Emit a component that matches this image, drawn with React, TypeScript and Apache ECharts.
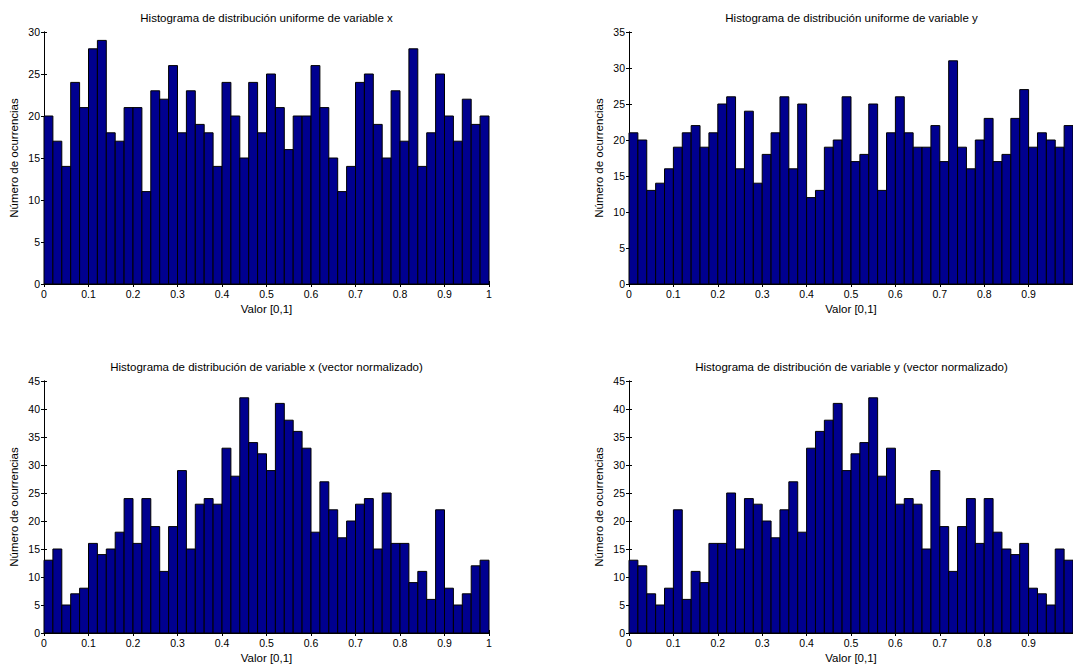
import React, { useEffect, useRef } from "react";
import * as echarts from "echarts";

// Bin centres of the 50-bin histograms (bin width 0.02 over [0,1])
const BIN_CENTERS = [
  0.01, 0.03, 0.05, 0.07, 0.09, 0.11, 0.13, 0.15, 0.17, 0.19,
  0.21, 0.23, 0.25, 0.27, 0.29, 0.31, 0.33, 0.35, 0.37, 0.39,
  0.41, 0.43, 0.45, 0.47, 0.49, 0.51, 0.53, 0.55, 0.57, 0.59,
  0.61, 0.63, 0.65, 0.67, 0.69, 0.71, 0.73, 0.75, 0.77, 0.79,
  0.81, 0.83, 0.85, 0.87, 0.89, 0.91, 0.93, 0.95, 0.97, 0.99,
];
const BIN_WIDTH = 0.02;

const COUNTS_UNIFORM_X = [
  20, 17, 14, 24, 21, 28, 29, 18, 17, 21, 21, 11, 23, 22, 26, 18, 23, 19, 18, 14,
  24, 20, 15, 24, 18, 25, 21, 16, 20, 20, 26, 21, 15, 11, 14, 24, 25, 19, 15, 23,
  17, 28, 14, 18, 25, 20, 17, 22, 19, 20,
];
const COUNTS_UNIFORM_Y = [
  21, 20, 13, 14, 16, 19, 21, 22, 19, 21, 25, 26, 16, 24, 14, 18, 21, 26, 16, 25,
  12, 13, 19, 20, 26, 17, 18, 25, 13, 21, 26, 21, 19, 19, 22, 17, 31, 19, 16, 20,
  23, 17, 18, 23, 27, 19, 21, 20, 19, 22,
];
const COUNTS_NORM_X = [
  13, 15, 5, 7, 8, 16, 14, 15, 18, 24, 16, 24, 19, 11, 19, 29, 15, 23, 24, 23,
  33, 28, 42, 34, 32, 29, 41, 38, 36, 33, 18, 27, 22, 17, 20, 23, 24, 15, 25, 16,
  16, 9, 11, 6, 22, 8, 5, 7, 12, 13,
];
const COUNTS_NORM_Y = [
  13, 12, 7, 5, 8, 22, 6, 11, 9, 16, 16, 25, 15, 24, 23, 20, 17, 22, 27, 18,
  33, 36, 38, 41, 29, 32, 34, 42, 28, 33, 23, 24, 23, 15, 29, 19, 11, 19, 24, 16,
  24, 18, 15, 14, 16, 8, 7, 5, 15, 13,
];

const TITLES = [
  "Histograma de distribución uniforme de variable x",
  "Histograma de distribución uniforme de variable y",
  "Histograma de distribución de variable x (vector normalizado)",
  "Histograma de distribución de variable y (vector normalizado)",
];
const X_LABEL = "Valor [0,1]";
const Y_LABEL = "Número de ocurrencias";
const Y_MAX = [30, 35, 45, 45];
const ALL_COUNTS = [COUNTS_UNIFORM_X, COUNTS_UNIFORM_Y, COUNTS_NORM_X, COUNTS_NORM_Y];

const FONT = "'Liberation Sans', Arial, sans-serif";
const BAR_FILL = "#00008F";

// Panel layout in pixels
const PANELS = [
  { left: 44, top: 32, showLast: true },
  { left: 629, top: 32, showLast: false },
  { left: 44, top: 381, showLast: true },
  { left: 629, top: 381, showLast: false },
];
const PW = 445;
const PH = 252;

export default function App() {
  const ref = useRef<HTMLDivElement>(null);

  useEffect(() => {
    if (!ref.current) return;
    const chart = echarts.init(ref.current, undefined, { renderer: "svg" });

    const grid: any[] = [];
    const xAxis: any[] = [];
    const yAxis: any[] = [];
    const series: any[] = [];
    const title: any[] = [];

    PANELS.forEach((p, i) => {
      grid.push({ left: p.left, top: p.top, width: PW, height: PH, containLabel: false });
      const common = {
        type: "value",
        gridIndex: i,
        min: 0,
        axisLine: { show: true, lineStyle: { color: "#000", width: 1 } },
        axisTick: { show: true, inside: true, length: 3, lineStyle: { color: "#000" } },
        splitLine: { show: false },
      };
      xAxis.push({
        ...common,
        max: 1,
        interval: 0.1,
        position: "bottom",
        axisLabel: {
          show: true,
          color: "#000",
          fontSize: 10.5,
          fontFamily: FONT,
          margin: 4,
          showMaxLabel: p.showLast,
        },
        name: X_LABEL,
        nameLocation: "middle",
        nameGap: 19,
        nameTextStyle: { color: "#000", fontSize: 11.5, fontFamily: FONT },
      });
      xAxis.push({
        ...common,
        max: 1,
        interval: 0.1,
        position: "top",
        axisLabel: { show: false },
      });
      yAxis.push({
        ...common,
        max: Y_MAX[i],
        interval: 5,
        position: "left",
        axisLabel: { show: true, color: "#000", fontSize: 10.5, fontFamily: FONT, margin: 4 },
        name: Y_LABEL,
        nameLocation: "middle",
        nameGap: 24,
        nameRotate: 90,
        nameTextStyle: { color: "#000", fontSize: 11.5, fontFamily: FONT },
      });
      yAxis.push({
        ...common,
        max: Y_MAX[i],
        interval: 5,
        position: "right",
        axisLabel: { show: false },
      });

      const data = BIN_CENTERS.map((c, k) => [c, ALL_COUNTS[i][k]]);
      series.push({
        type: "custom",
        xAxisIndex: 2 * i,
        yAxisIndex: 2 * i,
        data,
        encode: { x: 0, y: 1 },
        renderItem: (params: any, api: any) => {
          const x = api.value(0);
          const c = api.value(1);
          const p0 = api.coord([x - BIN_WIDTH / 2, 0]);
          const p1 = api.coord([x + BIN_WIDTH / 2, c]);
          return {
            type: "rect",
            shape: { x: p0[0], y: p1[1], width: p1[0] - p0[0], height: p0[1] - p1[1] },
            style: { fill: BAR_FILL, stroke: "#000", lineWidth: 1 },
          };
        },
      });

      title.push({
        text: TITLES[i],
        left: p.left + PW / 2,
        top: p.top - 20,
        textAlign: "center",
        padding: 0,
        textStyle: { color: "#000", fontSize: 11.5, fontWeight: "normal", fontFamily: FONT },
      });
    });

    chart.setOption({
      animation: false,
      backgroundColor: "#fff",
      title,
      grid,
      xAxis,
      yAxis,
      series,
    });

    return () => chart.dispose();
  }, []);

  return (
    <div
      ref={ref}
      style={{ position: "absolute", left: 0, top: 0, width: 1073, height: 668, background: "#fff" }}
    />
  );
}
